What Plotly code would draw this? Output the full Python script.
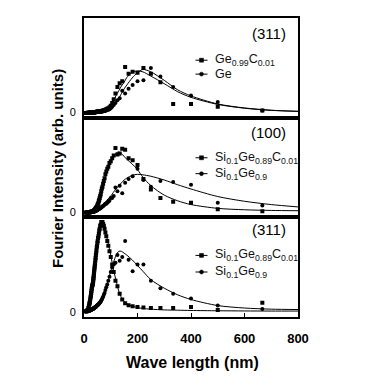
import plotly.graph_objects as go

# ---------------- data ----------------
# wavelengths (nm) of the Fourier points (shared grid)
wavelength = [666.7, 500.0, 400.0, 333.3, 285.7, 250.0, 222.2, 200.0, 181.8, 166.7,
              153.8, 142.9, 133.3, 125.0, 117.6, 111.1, 105.3, 100.0, 95.2, 90.9,
              87.0, 83.3, 80.0, 76.9, 74.1, 71.4, 69.0, 66.7, 64.5, 62.5,
              60.6, 58.8, 57.1, 55.6, 54.1, 52.6, 51.3, 50.0, 48.8, 47.6,
              46.5, 45.5, 44.4, 43.5, 42.6, 41.7, 40.8, 40.0, 39.2, 38.5,
              37.7, 37.0, 36.4, 35.7, 35.1, 34.5, 33.9, 33.3,
              32.3, 31.3, 30.3, 29.4, 28.6, 27.8, 27.0, 26.3, 25.6, 25.0,
              23.8, 22.7, 21.7, 20.8, 20.0, 18.2, 16.0, 13.3, 10.0, 6.7]

# wavelengths of the fitted curves
fit_wavelength = [0, 10, 20, 30, 40, 50, 60, 70, 80, 90, 100, 110, 120, 130, 140,
                  150, 160, 180, 200, 220, 250, 300, 350, 400, 500, 600, 700, 800]

# top panel (311): Ge0.99C0.01 (squares) and Ge (circles)
top_gec_points = [0.02, 0.06, 0.09, 0.09, 0.32, 0.41, 0.47, 0.42, 0.43, 0.41,
                  0.48, 0.33, 0.31, 0.27, 0.20, 0.14, 0.10, 0.07, 0.055, 0.045,
                  0.04, 0.035, 0.03, 0.025, 0.022, 0.02, 0.018, 0.016, 0.015, 0.014,
                  0.013, 0.012, 0.011, 0.01, 0.009, 0.009, 0.008, 0.008, 0.007, 0.007,
                  0.006, 0.006, 0.005, 0.005, 0.005, 0.004, 0.004, 0.004, 0.003, 0.003,
                  0.003, 0.003, 0.002, 0.002, 0.002, 0.002, 0.002, 0.002,
                  0.002, 0.001, 0.001, 0.001, 0.0, 0.0, 0.0, 0.0, 0.0, 0.0,
                  -0.001, -0.001, -0.002, -0.002, -0.003, -0.003, -0.004, -0.004, -0.005, -0.005]
top_ge_points = [0.02, 0.11, 0.18, 0.27, 0.38, 0.47, 0.34, 0.33, 0.29, 0.25,
                 0.20, 0.23, 0.15, 0.13, 0.10, 0.08, 0.06, 0.045, 0.035, 0.03,
                 0.025, 0.02, 0.018, 0.016, 0.014, 0.012, 0.011, 0.01, 0.009, 0.008,
                 0.007, 0.007, 0.006, 0.006, 0.005, 0.005, 0.005, 0.004, 0.004, 0.004,
                 0.003, 0.003, 0.003, 0.003, 0.003, 0.003, 0.003, 0.003, 0.003, 0.003,
                 0.002, 0.002, 0.002, 0.002, 0.002, 0.002, 0.002, 0.002,
                 0.001, 0.001, 0.001, 0.0, 0.0, 0.0, 0.0, 0.0, -0.001, -0.001,
                 -0.002, -0.002, -0.003, -0.003, -0.004, -0.004, -0.005, -0.005, -0.006, -0.006]
top_gec_fit = [0, 0, 0, 0.003, 0.006, 0.01, 0.014, 0.02, 0.03, 0.045, 0.07, 0.12, 0.18, 0.23,
               0.28, 0.32, 0.37, 0.425, 0.44, 0.43, 0.385, 0.305, 0.22, 0.16, 0.085, 0.045,
               0.022, 0.012]
top_ge_fit = [0, 0, 0, 0.002, 0.004, 0.006, 0.009, 0.012, 0.016, 0.022, 0.035, 0.06, 0.10,
              0.15, 0.20, 0.25, 0.29, 0.365, 0.42, 0.455, 0.43, 0.34, 0.24, 0.175, 0.09,
              0.048, 0.024, 0.012]

# middle panel (100): Si0.1Ge0.89C0.01 (squares) and Si0.1Ge0.9 (circles)
mid_sigec_points = [0.01, 0.03, 0.10, 0.11, 0.15, 0.24, 0.35, 0.50, 0.55, 0.57,
                    0.66, 0.67, 0.62, 0.61, 0.68, 0.60, 0.57, 0.54, 0.52, 0.48,
                    0.46, 0.43, 0.40, 0.36, 0.33, 0.30, 0.27, 0.25, 0.22, 0.19,
                    0.17, 0.15, 0.13, 0.12, 0.10, 0.09, 0.08, 0.07, 0.06, 0.055,
                    0.05, 0.045, 0.04, 0.035, 0.03, 0.028, 0.025, 0.022, 0.02, 0.018,
                    0.016, 0.014, 0.012, 0.011, 0.01, 0.009, 0.008, 0.007,
                    0.006, 0.005, 0.005, 0.004, 0.004, 0.003, 0.003, 0.002, 0.002, 0.002,
                    0.001, 0.001, 0.0, 0.0, 0.0, -0.001, -0.002, -0.003, -0.004, -0.005]
mid_sige_points = [0.07, 0.10, 0.29, 0.32, 0.33, 0.27, 0.34, 0.46, 0.38, 0.35,
                   0.31, 0.20, 0.28, 0.22, 0.26, 0.17, 0.15, 0.15, 0.12, 0.11,
                   0.10, 0.09, 0.085, 0.08, 0.07, 0.065, 0.06, 0.055, 0.05, 0.045,
                   0.042, 0.038, 0.035, 0.032, 0.03, 0.028, 0.025, 0.023, 0.021, 0.019,
                   0.017, 0.016, 0.014, 0.013, 0.012, 0.011, 0.01, 0.009, 0.008, 0.007,
                   0.007, 0.006, 0.005, 0.005, 0.004, 0.004, 0.003, 0.003,
                   0.003, 0.002, 0.002, 0.002, 0.001, 0.001, 0.001, 0.0, 0.0, 0.0,
                   0.0, -0.001, -0.001, -0.002, -0.002, -0.003, -0.003, -0.004, -0.005, -0.005]
mid_sigec_fit = [0, 0, 0, 0.005, 0.02, 0.07, 0.16, 0.26, 0.38, 0.47, 0.54, 0.59, 0.625,
                 0.635, 0.62, 0.59, 0.56, 0.51, 0.45, 0.37, 0.28, 0.18, 0.12, 0.08, 0.04,
                 0.025, 0.018, 0.015]
mid_sige_fit = [0, 0, 0, 0.003, 0.01, 0.03, 0.05, 0.08, 0.11, 0.14, 0.17, 0.21, 0.25, 0.28,
                0.31, 0.34, 0.36, 0.39, 0.40, 0.395, 0.38, 0.34, 0.29, 0.245, 0.165, 0.115,
                0.08, 0.055]

# bottom panel (311): Si0.1Ge0.89C0.01 (squares) and Si0.1Ge0.9 (circles)
bot_sigec_points = [0.095, 0.02, 0.05, 0.04, 0.04, 0.04, 0.045, 0.05, 0.06, 0.07,
                    0.09, 0.13, 0.19, 0.27, 0.33, 0.42, 0.50, 0.58, 0.64, 0.70,
                    0.75, 0.80, 0.84, 0.88, 0.91, 0.93, 0.95, 0.94, 0.95, 0.92,
                    0.91, 0.88, 0.86, 0.83, 0.80, 0.78, 0.75, 0.73, 0.70, 0.68,
                    0.65, 0.62, 0.60, 0.57, 0.55, 0.52, 0.50, 0.48, 0.46, 0.44,
                    0.42, 0.40, 0.38, 0.36, 0.35, 0.33, 0.32, 0.30,
                    0.29, 0.28, 0.27, 0.25, 0.24, 0.22, 0.20, 0.19, 0.17, 0.16,
                    0.14, 0.12, 0.10, 0.09, 0.08, 0.06, 0.04, 0.02, 0.01, 0.005]
bot_sige_points = [0.03, 0.066, 0.14, 0.19, 0.25, 0.33, 0.50, 0.50, 0.43, 0.55,
                   0.75, 0.58, 0.54, 0.60, 0.52, 0.50, 0.47, 0.42, 0.37, 0.33,
                   0.29, 0.26, 0.23, 0.20, 0.18, 0.16, 0.145, 0.13, 0.12, 0.11,
                   0.10, 0.095, 0.09, 0.085, 0.08, 0.075, 0.072, 0.07, 0.066, 0.063,
                   0.06, 0.057, 0.054, 0.052, 0.05, 0.048, 0.046, 0.045, 0.043, 0.041,
                   0.04, 0.038, 0.037, 0.035, 0.034, 0.033, 0.031, 0.03,
                   0.028, 0.027, 0.026, 0.025, 0.024, 0.023, 0.022, 0.021, 0.02, 0.019,
                   0.017, 0.015, 0.013, 0.012, 0.01, 0.008, 0.006, 0.004, 0.002, 0.001]
bot_sigec_fit = [0, 0.01, 0.08, 0.27, 0.50, 0.76, 0.91, 0.94, 0.85, 0.73, 0.60, 0.45, 0.33,
                 0.22, 0.15, 0.11, 0.085, 0.06, 0.045, 0.035, 0.028, 0.02, 0.017, 0.014,
                 0.011, 0.009, 0.008, 0.008]
bot_sige_fit = [0, 0.002, 0.01, 0.025, 0.045, 0.07, 0.10, 0.15, 0.23, 0.33, 0.43, 0.52, 0.60,
                0.64, 0.64, 0.62, 0.60, 0.55, 0.49, 0.43, 0.34, 0.25, 0.18, 0.13, 0.066,
                0.04, 0.028, 0.024]

panel_labels = ["(311)", "(100)", "(311)"]
legend_names = [
    ["Ge<sub>0.99</sub>C<sub>0.01</sub>", "Ge"],
    ["Si<sub>0.1</sub>Ge<sub>0.89</sub>C<sub>0.01</sub>", "Si<sub>0.1</sub>Ge<sub>0.9</sub>"],
    ["Si<sub>0.1</sub>Ge<sub>0.89</sub>C<sub>0.01</sub>", "Si<sub>0.1</sub>Ge<sub>0.9</sub>"],
]
x_tick_values = [0, 200, 400, 600, 800]
x_title = "Wave length (nm)"
y_title = "Fourier Intensity (arb. units)"

# ---------------- figure ----------------
# The page body has an 8 px margin, so the figure is placed at (8, 8) in the window.
OFF = 8
W, H = 349, 370
L, T = 84 - OFF, 16 - OFF
R = OFF + W - 298
B = OFF + H - 317
PW, PH = W - L - R, H - T - B
FONT = "Liberation Sans, Arial, Helvetica, sans-serif"


def px2paper(px, py):
    """window pixel -> paper coordinates"""
    return (px - OFF - L) / PW, (OFF + H - B - py) / PH


panels = [
    # (axis suffix, domain, squares pts, circles pts, squares fit, circles fit)
    ("3", [2 / 3, 1.0], top_gec_points, top_ge_points, top_gec_fit, top_ge_fit),
    ("2", [1 / 3, 2 / 3], mid_sigec_points, mid_sige_points, mid_sigec_fit, mid_sige_fit),
    ("", [0.0, 1 / 3], bot_sigec_points, bot_sige_points, bot_sigec_fit, bot_sige_fit),
]

fig = go.Figure()
layout = dict(
    width=W, height=H,
    margin=dict(l=L, r=R, t=T, b=B, pad=0),
    paper_bgcolor="white", plot_bgcolor="white",
    showlegend=False,
    font=dict(family=FONT, color="black"),
)

for suffix, dom, sq, ci, sqfit, cifit in panels:
    xa, ya = "x" + suffix, "y" + suffix
    for yfit in (sqfit, cifit):
        fig.add_trace(go.Scatter(x=fit_wavelength, y=yfit, mode="lines",
                                 line=dict(color="black", width=1, shape="spline", smoothing=0.8),
                                 xaxis=xa, yaxis=ya, hoverinfo="skip"))
    fig.add_trace(go.Scatter(x=wavelength, y=sq, mode="markers",
                             marker=dict(symbol="square", size=4, color="black"),
                             xaxis=xa, yaxis=ya))
    fig.add_trace(go.Scatter(x=wavelength, y=ci, mode="markers",
                             marker=dict(symbol="circle", size=4, color="black"),
                             xaxis=xa, yaxis=ya))
    is_bottom = suffix == ""
    layout["xaxis" + suffix] = dict(
        domain=[0, 1], anchor=ya, range=[0, 800],
        showline=True, mirror=True, linecolor="black", linewidth=2,
        showgrid=False, zeroline=False,
        tickvals=x_tick_values if is_bottom else [],
        ticktext=[str(v) for v in x_tick_values] if is_bottom else [],
        showticklabels=is_bottom,
        ticks="inside" if is_bottom else "", ticklen=4, tickwidth=1, tickcolor="black",
        tickfont=dict(size=13, weight="bold", family=FONT, color="black"),
        ticklabelstandoff=8,
    )
    if suffix != "":
        layout["xaxis" + suffix]["matches"] = "x"
    layout["yaxis" + suffix] = dict(
        domain=dom, anchor=xa, range=[-0.055, 1.0],
        showline=True, mirror=True, linecolor="black", linewidth=2,
        showgrid=False, zeroline=False,
        tickvals=[0], ticktext=["0"], ticks="",
        tickfont=dict(size=11, family=FONT, color="black"),
        ticklabelstandoff=4,
    )

fig.update_layout(**layout)

# panel labels
label_rows = [32, 131, 229]
for text, py in zip(panel_labels, label_rows):
    x, y = px2paper(288, py)
    fig.add_annotation(xref="paper", yref="paper", x=x, y=y, text=text, showarrow=False,
                       xanchor="right", yanchor="middle",
                       font=dict(size=15, family=FONT, color="black"))

# hand-drawn legends (short line with marker + label)
legend_rows = [(58.5, 72.5), (156.7, 172.7), (255.0, 271.7)]
for names, rows in zip(legend_names, legend_rows):
    for name, py, sym in zip(names, rows, ("square", "circle")):
        x0, y = px2paper(195.5, py)
        x1, _ = px2paper(207.5, py)
        fig.add_shape(type="line", xref="paper", yref="paper", x0=x0, x1=x1, y0=y, y1=y,
                      line=dict(color="black", width=1))
        mx0, my0 = px2paper(199.5, py + 2)
        mx1, my1 = px2paper(203.5, py - 2)
        fig.add_shape(type="rect" if sym == "square" else "circle", xref="paper", yref="paper",
                      x0=mx0, x1=mx1, y0=my0, y1=my1,
                      line=dict(color="black", width=0.5), fillcolor="black")
        tx, ty = px2paper(212.5, py)
        fig.add_annotation(xref="paper", yref="paper", x=tx, y=ty, text=name, showarrow=False,
                           xanchor="left", yanchor="middle",
                           font=dict(size=12.5, family=FONT, color="#111111"))

# axis titles
x, y = px2paper(192, 363)
fig.add_annotation(xref="paper", yref="paper", x=x, y=y, text="<b>" + x_title + "</b>",
                   showarrow=False, xanchor="center", yanchor="middle",
                   font=dict(size=16, family=FONT, color="black"))
x, y = px2paper(58, 168)
fig.add_annotation(xref="paper", yref="paper", x=x, y=y, text="<b>" + y_title + "</b>",
                   showarrow=False, xanchor="center", yanchor="middle", textangle=-90,
                   font=dict(size=15, family=FONT, color="black"))

fig.write_html("out.html")
